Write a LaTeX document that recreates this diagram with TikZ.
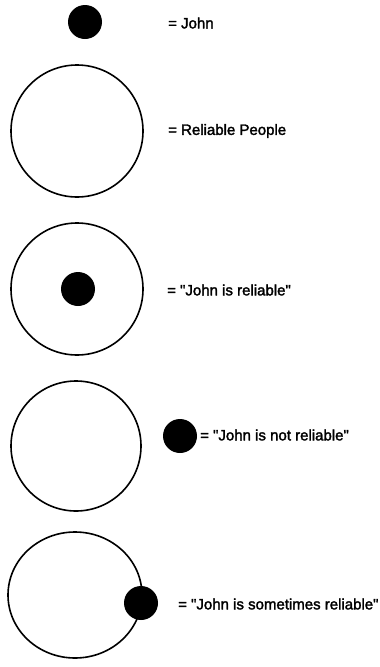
\documentclass[tikz,border=0pt]{standalone}
\usepackage{fontspec}
\setmainfont{Liberation Sans}
\newfontfamily\lblfont[FakeBold=2]{Liberation Sans}
\newcommand{\sq}{\char34\relax}
\begin{document}
\begin{tikzpicture}[x=1pt,y=-1pt,
  setcircle/.style={draw=black,line width=1.6pt,fill=white},
  johndot/.style={fill=black},
  lbl/.style={anchor=west,inner sep=0pt,font=\lblfont\fontsize{15}{18}\selectfont}]
\useasboundingbox (0,0) rectangle (380,667);
% row 1
\fill[johndot] (85,22) circle[radius=17] coordinate (d1);
\node[lbl] (t1) at (168,23) {= John};
% row 2
\draw[setcircle] (77,131) circle[radius=66] coordinate (c2);
\node[lbl] (t2) at (168,131) {= Reliable People};
% row 3
\draw[setcircle] (77,289) circle[radius=66] coordinate (c3);
\fill[johndot] (78,289) circle[radius=17] coordinate (d3);
\node[lbl] (t3) at (167,290) {= \sq John is reliable\sq};
% row 4
\draw[setcircle] (76,446) circle[radius=65] coordinate (c4);
\fill[johndot] (180,436) circle[radius=17] coordinate (d4);
\node[lbl] (t4) at (200,435) {= \sq John is not reliable\sq};
% row 5
\draw[setcircle] (75,595) ellipse[x radius=67,y radius=63] coordinate (c5);
\fill[johndot] (141,603) circle[radius=17] coordinate (d5);
\node[lbl] (t5) at (178,604) {= \sq John is sometimes reliable\sq};
\end{tikzpicture}
\end{document}
